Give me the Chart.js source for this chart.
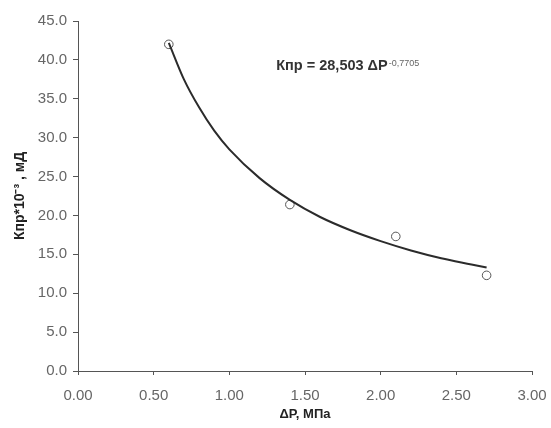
<!DOCTYPE html>
<html>
<head>
<meta charset="utf-8">
<script src="https://cdn.jsdelivr.net/npm/chart.js@4/dist/chart.umd.min.js"></script>
<style>
  html, body { margin: 0; padding: 0; background: #fff; }
  #wrap { width: 551px; height: 428px; }
</style>
</head>
<body>
<div id="wrap"><canvas id="kprChart" width="551" height="428"></canvas></div>
<script>
// Measured points: pressure drop (MPa) vs permeability
const pressure = [0.6, 1.4, 2.1, 2.7];
const permeability = [42.0, 21.4, 17.3, 12.3];

// Power trend line, sampled along the drawn curve
const trendPressure = [0.6, 0.7, 0.8, 0.9, 1.0, 1.2, 1.4, 1.6, 1.8, 2.0, 2.2, 2.4, 2.6, 2.7];
const trendPermeability = [42.2, 37.5, 33.9, 30.9, 28.5, 24.8, 22.0, 19.8, 18.1, 16.7, 15.5, 14.5, 13.7, 13.3];

// Axis ranges and steps
const xTicks = [0, 0.5, 1.0, 1.5, 2.0, 2.5, 3.0];
const yTicks = [0, 5, 10, 15, 20, 25, 30, 35, 40, 45];

// Equation label text and where it sits (in data units)
const equationMain = 'Кпр = 28,503 ΔP';
const equationPower = '-0,7705';
const equationAt = { x: 1.31, y: 38.75 };

const toPoints = (xs, ys) => xs.map((x, i) => ({ x: x, y: ys[i] }));

// Draws the trend equation with a superscript power
const equationLabel = {
  id: 'equationLabel',
  afterDatasetsDraw(chart) {
    const ctx = chart.ctx;
    const px = chart.scales.x.getPixelForValue(equationAt.x);
    const py = chart.scales.y.getPixelForValue(equationAt.y);
    ctx.save();
    ctx.textBaseline = 'alphabetic';
    ctx.textAlign = 'left';
    ctx.fillStyle = '#333';
    ctx.font = 'bold 14.5px "Liberation Sans", Arial, sans-serif';
    ctx.fillText(equationMain, px, py);
    const w = ctx.measureText(equationMain).width;
    ctx.fillStyle = '#666';
    ctx.font = '9px "Liberation Sans", Arial, sans-serif';
    ctx.fillText(equationPower, px + w + 1, py - 4);
    ctx.restore();
  }
};

const ctx = document.getElementById('kprChart').getContext('2d');
const kprChart = new Chart(ctx, {
  type: 'scatter',
  data: {
    datasets: [{
      label: 'trend',
      data: toPoints(trendPressure, trendPermeability),
      showLine: true,
      borderColor: '#2b2b2b',
      borderWidth: 2,
      pointRadius: 0,
      tension: 0.4,
      cubicInterpolationMode: 'monotone',
      fill: false
    }, {
      label: 'Кпр',
      data: toPoints(pressure, permeability),
      showLine: false,
      pointRadius: 4.3,
      pointBackgroundColor: '#fff',
      pointBorderColor: '#555',
      pointBorderWidth: 1
    }]
  },
  options: {
    responsive: false,
    animation: false,
    layout: {
      padding: { left: 0, right: 19, top: 21, bottom: 0 }
    },
    plugins: {
      legend: { display: false },
      tooltip: { enabled: false }
    },
    scales: {
      x: {
        type: 'linear',
        min: xTicks[0],
        max: xTicks[xTicks.length - 1],
        afterBuildTicks: (scale) => { scale.ticks = xTicks.map(v => ({ value: v })); },
        afterFit: (scale) => {
          scale.height = 57;
          // keep the plot edge fixed, labels may hang into the padding
          scale.paddingLeft = 0;
          scale.paddingRight = 0;
        },
        border: { display: true, color: '#555', width: 1, dash: [2, 1] },
        grid: { drawOnChartArea: false, drawTicks: true, tickLength: 4, color: '#555' },
        ticks: {
          padding: 12,
          color: '#666',
          font: { family: '"Liberation Sans", Arial, sans-serif', size: 15 },
          callback: (v) => Number(v).toFixed(2)
        },
        title: {
          display: true,
          text: 'ΔP, МПа',
          color: '#222',
          padding: { top: 0, bottom: 6 },
          font: { family: '"Liberation Sans", Arial, sans-serif', size: 13, weight: 'bold' }
        }
      },
      y: {
        type: 'linear',
        min: yTicks[0],
        max: yTicks[yTicks.length - 1],
        afterBuildTicks: (scale) => { scale.ticks = yTicks.map(v => ({ value: v })); },
        afterFit: (scale) => { scale.width = 78; },
        border: { display: true, color: '#555', width: 1, dash: [2, 1] },
        grid: { drawOnChartArea: false, drawTicks: true, tickLength: 5, color: '#555' },
        ticks: {
          padding: 6,
          color: '#666',
          font: { family: '"Liberation Sans", Arial, sans-serif', size: 15 },
          callback: (v) => Number(v).toFixed(1)
        },
        title: {
          display: true,
          text: 'Кпр*10⁻³ , мД',
          color: '#222',
          padding: { top: 12, bottom: 0 },
          font: { family: '"Liberation Sans", Arial, sans-serif', size: 14, weight: 'bold' }
        }
      }
    }
  },
  plugins: [equationLabel]
});
</script>
</body>
</html>
